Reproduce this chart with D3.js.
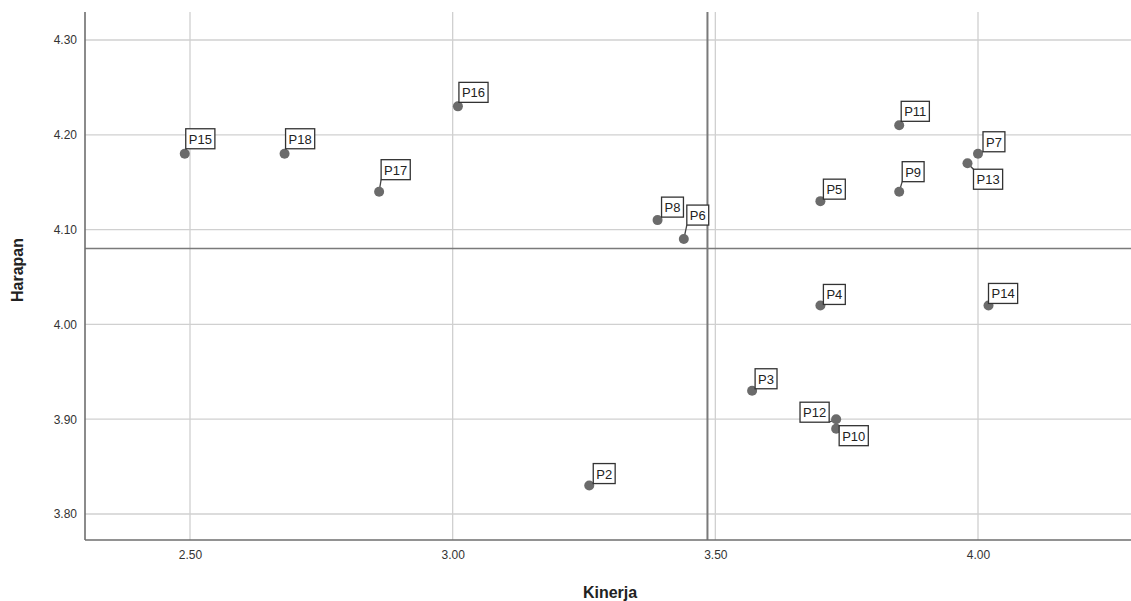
<!DOCTYPE html>
<html><head><meta charset="utf-8">
<script src="https://cdn.jsdelivr.net/npm/d3@7/dist/d3.min.js"></script>
<style>body{margin:0;background:#fff}svg{display:block}</style>
</head><body>
<svg id="c" width="1131" height="601"></svg>
<script>
const labels = ["P2","P3","P4","P5","P6","P7","P8","P9","P10","P11","P12","P13","P14","P15","P16","P17","P18"];
const kinerja = [3.26,3.57,3.70,3.70,3.44,4.00,3.39,3.85,3.73,3.85,3.73,3.98,4.02,2.49,3.01,2.86,2.68];
const harapan = [3.83,3.93,4.02,4.13,4.09,4.18,4.11,4.14,3.89,4.21,3.90,4.17,4.02,4.18,4.23,4.14,4.18];
const xTicks = [2.5,3.0,3.5,4.0];
const yTicks = [3.8,3.9,4.0,4.1,4.2,4.3];
const meanKinerja = 3.485;
const meanHarapan = 4.08;

// label placement (layout only): offset of box corner relative to point
const place = {
  P2:{dx:4,dy:-2,a:"bl"}, P3:{dx:3,dy:-2,a:"bl"}, P4:{dx:3,dy:-1,a:"bl"}, P5:{dx:3,dy:-2,a:"bl"},
  P6:{dx:3,dy:-14,a:"bl"}, P7:{dx:5,dy:-2,a:"bl"}, P8:{dx:4,dy:-3,a:"bl"}, P9:{dx:3,dy:-10,a:"bl"},
  P10:{dx:3,dy:-3,a:"tl"}, P11:{dx:2,dy:-4,a:"bl"}, P12:{dx:-7,dy:3,a:"br"}, P13:{dx:6,dy:6,a:"tl"},
  P14:{dx:0,dy:-2,a:"bl"}, P15:{dx:1,dy:-5,a:"bl"}, P16:{dx:1,dy:-4,a:"bl"}, P17:{dx:2,dy:-12,a:"bl"},
  P18:{dx:1,dy:-5,a:"bl"}
};

const svg = d3.select("#c");
const x = d3.scaleLinear().domain([2.5,4.0]).range([190,978]);
const y = d3.scaleLinear().domain([3.8,4.3]).range([514,40]);
const L=85, R=1131, T=12, B=540;

// gridlines
svg.append("g").selectAll("line").data(yTicks).join("line")
  .attr("x1",L).attr("x2",R).attr("y1",d=>y(d)).attr("y2",d=>y(d))
  .attr("stroke","#d0d0d0").attr("stroke-width",1.3);
svg.append("g").selectAll("line").data(xTicks).join("line")
  .attr("y1",T).attr("y2",B).attr("x1",d=>x(d)).attr("x2",d=>x(d))
  .attr("stroke","#d0d0d0").attr("stroke-width",1.3);

// reference lines
svg.append("line").attr("x1",L).attr("x2",R).attr("y1",y(meanHarapan)).attr("y2",y(meanHarapan))
  .attr("stroke","#7a7a7a").attr("stroke-width",1.6);
svg.append("line").attr("y1",T).attr("y2",B).attr("x1",x(meanKinerja)).attr("x2",x(meanKinerja))
  .attr("stroke","#7a7a7a").attr("stroke-width",2);

// axes
const ax = svg.append("g").attr("transform",`translate(0,${B})`)
  .call(d3.axisBottom(x).tickValues(xTicks).tickFormat(d3.format(".2f")).tickSize(0).tickPadding(10));
ax.select(".domain").remove();
ax.selectAll("text").attr("font-family","Liberation Sans, Arial, sans-serif").attr("font-size",12).attr("fill","#333");
const ay = svg.append("g").attr("transform",`translate(${L},0)`)
  .call(d3.axisLeft(y).tickValues(yTicks).tickFormat(d3.format(".2f")).tickSize(0).tickPadding(8));
ay.select(".domain").remove();
ay.selectAll("text").attr("font-family","Liberation Sans, Arial, sans-serif").attr("font-size",12).attr("fill","#333");

svg.append("line").attr("x1",L).attr("x2",L).attr("y1",T).attr("y2",B).attr("stroke","#6e6e6e").attr("stroke-width",1.6);
svg.append("line").attr("x1",L).attr("x2",R).attr("y1",B).attr("y2",B).attr("stroke","#6e6e6e").attr("stroke-width",1.6);

// axis titles
svg.append("text").attr("x",610).attr("y",598).attr("text-anchor","middle")
  .attr("font-family","Liberation Sans, Arial, sans-serif").attr("font-weight","bold").attr("font-size",16).attr("fill","#222").text("Kinerja");
svg.append("text").attr("transform","translate(23,270) rotate(-90)").attr("text-anchor","middle")
  .attr("font-family","Liberation Sans, Arial, sans-serif").attr("font-weight","bold").attr("font-size",16).attr("fill","#222").text("Harapan");

// points + labels
const data = labels.map((l,i)=>({l, px:x(kinerja[i]), py:y(harapan[i])}));
const gLead = svg.append("g"), gPts = svg.append("g"), gLab = svg.append("g");
const H = 20;
data.forEach(d=>{
  const p = place[d.l];
  const t = gLab.append("text").attr("font-family","Liberation Sans, Arial, sans-serif")
    .attr("font-size",13).attr("fill","#222").text(d.l);
  const w = t.node().getComputedTextLength()+6;
  let bx, by, cx, cy;
  if(p.a==="bl"){ bx=d.px+p.dx; by=d.py+p.dy-H; cx=bx; cy=by+H; }
  else if(p.a==="tl"){ bx=d.px+p.dx; by=d.py+p.dy; cx=bx; cy=by; }
  else { bx=d.px+p.dx-w; by=d.py+p.dy-H; cx=bx+w; cy=by+H; }
  gLab.insert("rect","text:last-child").attr("x",bx).attr("y",by).attr("width",w).attr("height",H)
    .attr("fill","#fff").attr("stroke","#333").attr("stroke-width",1.3);
  t.raise().attr("x",bx+3).attr("y",by+15);
  gLead.append("line").attr("x1",d.px).attr("y1",d.py).attr("x2",cx).attr("y2",cy)
    .attr("stroke","#444").attr("stroke-width",1.3);
  gPts.append("circle").attr("cx",d.px).attr("cy",d.py).attr("r",5).attr("fill","#6b6b6b");
});
</script>
</body></html>
